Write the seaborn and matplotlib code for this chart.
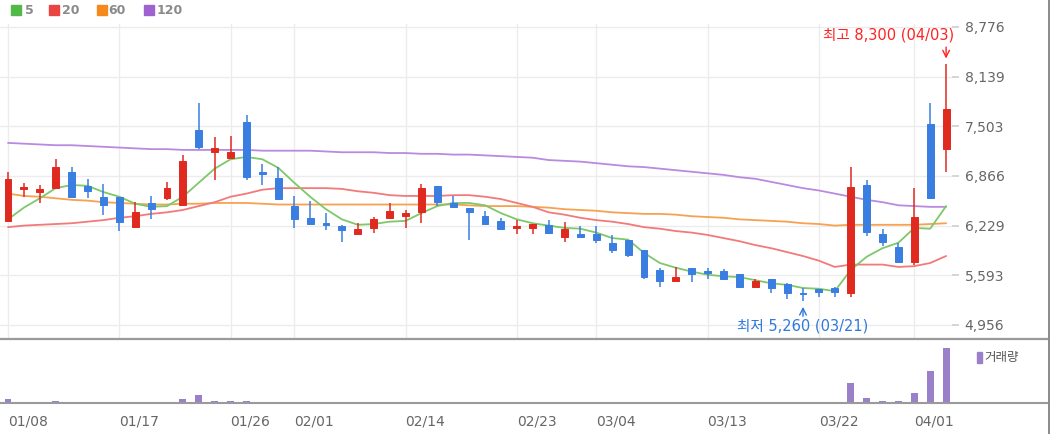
import matplotlib
matplotlib.use("Agg")
import matplotlib.pyplot as plt
import seaborn as sns
import numpy as np
import pandas as pd
from matplotlib.patches import Rectangle
from matplotlib.lines import Line2D

# ---------------- data ----------------
dates = ["01/08", "01/09", "01/10", "01/11", "01/12", "01/15", "01/16", "01/17", "01/18", "01/19",
         "01/22", "01/23", "01/24", "01/25", "01/26", "01/29", "01/30", "01/31", "02/01", "02/02",
         "02/05", "02/06", "02/07", "02/08", "02/13", "02/14", "02/15", "02/16", "02/19", "02/20",
         "02/21", "02/22", "02/23", "02/26", "02/27", "02/28", "02/29", "03/04", "03/05", "03/06",
         "03/07", "03/08", "03/11", "03/12", "03/13", "03/14", "03/15", "03/18", "03/19", "03/20",
         "03/21", "03/22", "03/25", "03/26", "03/27", "03/28", "03/29", "04/01", "04/02", "04/03"]

opens = [6290, 6700, 6660, 6710, 6920, 6740, 6600, 6600, 6210, 6520,
         6580, 6490, 7460, 7170, 7100, 7560, 6920, 6840, 6480, 6330,
         6260, 6220, 6120, 6200, 6330, 6350, 6400, 6740, 6520, 6460,
         6350, 6290, 6200, 6200, 6240, 6080, 6120, 6120, 6010, 6050,
         5920, 5660, 5520, 5690, 5650, 5650, 5610, 5440, 5540, 5480,
         5370, 5420, 5430, 5370, 6750, 6120, 5960, 5760, 7530, 7210]
highs = [6920, 6780, 6750, 7080, 6980, 6830, 6760, 6600, 6530, 6610,
         6790, 7130, 7800, 7370, 7380, 7650, 7020, 6980, 6610, 6550,
         6390, 6240, 6260, 6340, 6520, 6430, 6760, 6740, 6610, 6460,
         6420, 6330, 6300, 6250, 6300, 6280, 6220, 6220, 6110, 6050,
         5920, 5690, 5700, 5690, 5690, 5670, 5610, 5540, 5540, 5490,
         5430, 5420, 5440, 6980, 6810, 6190, 6010, 6710, 7800, 8300]
lows = [6270, 6600, 6520, 6710, 6580, 6580, 6370, 6160, 6210, 6310,
        6560, 6480, 7210, 6810, 7100, 6810, 6750, 6560, 6200, 6250,
        6170, 6020, 6120, 6130, 6330, 6200, 6260, 6480, 6470, 6050,
        6240, 6170, 6120, 6120, 6120, 6020, 6080, 6010, 5880, 5830,
        5540, 5440, 5520, 5510, 5540, 5530, 5430, 5440, 5370, 5290,
        5260, 5310, 5310, 5310, 6100, 5970, 5750, 5720, 6580, 6920]
closes = [6830, 6720, 6700, 6980, 6600, 6670, 6500, 6280, 6400, 6440,
          6710, 7060, 7240, 7220, 7170, 6850, 6890, 6570, 6310, 6250,
          6240, 6170, 6190, 6310, 6420, 6390, 6710, 6530, 6470, 6400,
          6250, 6190, 6220, 6250, 6130, 6190, 6080, 6040, 5920, 5850,
          5570, 5520, 5570, 5610, 5620, 5540, 5440, 5520, 5430, 5370,
          5350, 5380, 5380, 6720, 6150, 6020, 5760, 6340, 6580, 7730]

ma5 = [6310, 6460, 6580, 6710, 6750, 6740, 6660, 6600, 6510, 6470,
       6480, 6600, 6780, 6960, 7080, 7110, 7080, 6970, 6780, 6600,
       6440, 6310, 6240, 6250, 6280, 6290, 6390, 6480, 6520, 6520,
       6490, 6390, 6310, 6260, 6230, 6200, 6190, 6140, 6070, 6050,
       5880, 5750, 5690, 5640, 5600, 5580, 5570, 5530, 5490, 5470,
       5430, 5420, 5390, 5660, 5830, 5940, 6010, 6200, 6190, 6480]
ma20 = [6210, 6230, 6240, 6250, 6260, 6280, 6300, 6330, 6350, 6380,
        6400, 6430, 6480, 6530, 6600, 6640, 6690, 6710, 6710, 6710,
        6710, 6700, 6670, 6650, 6620, 6610, 6610, 6610, 6620, 6620,
        6600, 6570, 6520, 6470, 6400, 6370, 6330, 6300, 6280, 6250,
        6210, 6190, 6160, 6140, 6110, 6070, 6030, 5980, 5940, 5890,
        5840, 5780, 5700, 5730, 5730, 5730, 5700, 5710, 5750, 5840]
ma60 = [6640, 6610, 6600, 6580, 6560, 6550, 6530, 6520, 6510, 6500,
        6500, 6510, 6510, 6520, 6520, 6520, 6510, 6500, 6500, 6500,
        6500, 6500, 6500, 6500, 6500, 6500, 6500, 6500, 6500, 6490,
        6480, 6480, 6480, 6470, 6460, 6440, 6430, 6420, 6400, 6390,
        6380, 6380, 6370, 6350, 6340, 6330, 6310, 6300, 6290, 6280,
        6260, 6250, 6230, 6240, 6240, 6240, 6240, 6240, 6250, 6260]
ma120 = [7290, 7280, 7270, 7260, 7260, 7250, 7240, 7230, 7220, 7210,
         7210, 7200, 7200, 7200, 7200, 7200, 7190, 7190, 7190, 7190,
         7180, 7170, 7170, 7170, 7160, 7160, 7150, 7150, 7140, 7140,
         7130, 7120, 7110, 7100, 7070, 7060, 7050, 7030, 7010, 6990,
         6980, 6960, 6940, 6920, 6900, 6880, 6850, 6830, 6790, 6750,
         6710, 6680, 6640, 6600, 6560, 6530, 6490, 6480, 6470, 6470]

volume = [80, 5, 5, 40, 5, 5, 5, 5, 5, 5,
          5, 80, 160, 40, 40, 40, 5, 5, 5, 5,
          5, 5, 5, 5, 5, 5, 5, 5, 5, 5,
          5, 5, 5, 5, 5, 5, 5, 5, 5, 5,
          5, 5, 5, 5, 5, 5, 5, 5, 5, 5,
          5, 5, 5, 400, 100, 40, 40, 200, 640, 1100]

price_ticks = [4956, 5593, 6229, 6866, 7503, 8139, 8776]
date_ticks = ["01/08", "01/17", "01/26", "02/01", "02/14", "02/23", "03/04", "03/13", "03/22", "04/01"]

ma_names = ["5", "20", "60", "120"]
ma_line_colors = ["#7dc86a", "#f27a7a", "#f6a24f", "#b98ae0"]
ma_legend_colors = ["#53b946", "#ea4343", "#f48a1e", "#9f62d0"]

high_label = "최고 8,300 (04/03)"
low_label = "최저 5,260 (03/21)"
vol_label = "거래량"

# ---------------- style ----------------
W, H = 1050, 434
sns.set_theme(style="white")
plt.rcParams['font.family'] = ['DejaVu Sans', 'Noto Sans CJK KR']

UP = "#e02a20"
DOWN = "#397ee0"
GRID = "#ececec"

def fx(px):
    return px / W

def fy(py):
    return 1 - py / H

idx = np.arange(len(dates))
df = pd.DataFrame({"i": idx, "date": dates, "open": opens, "high": highs,
                   "low": lows, "close": closes, "vol": volume,
                   "ma5": ma5, "ma20": ma20, "ma60": ma60, "ma120": ma120})

STEP = 15.9   # px per trading day
X0 = 8        # px of first candle

fig = plt.figure(figsize=(W / 100, H / 100), dpi=100)
fig.patch.set_facecolor("white")

ax = fig.add_axes([0, fy(338), fx(952), (338 - 24) / H])
axv = fig.add_axes([0, fy(403), fx(1048), (403 - 341) / H])

# ---------------- price panel ----------------
for name, col in zip(["ma120", "ma60", "ma20", "ma5"], ma_line_colors[::-1]):
    sns.lineplot(data=df, x="i", y=name, ax=ax, color=col, lw=1.3, zorder=2)

up = df["close"] >= df["open"]
cols = np.where(up, UP, DOWN)
ax.vlines(df["i"], df["low"], df["high"], colors=cols, lw=1.1, zorder=3)
body_lo = np.minimum(df["open"], df["close"])
body_h = np.abs(df["close"] - df["open"])
ax.bar(df["i"], body_h, bottom=body_lo, width=0.44, color=cols,
       edgecolor=cols, lw=0.7, zorder=4)

ax.set_xlim(-X0 / STEP, (952 - X0) / STEP)
ax.set_ylim(4789, 8814)
tick_pos = [dates.index(d) for d in date_ticks]
ax.set_xticks(tick_pos)
ax.set_xticklabels([])
ax.tick_params(axis="x", length=0)
ax.set_yticks(price_ticks)
ax.set_yticklabels([f"{v:,}" for v in price_ticks])
ax.yaxis.tick_right()
ax.tick_params(axis="y", length=5, color="#d0d0d0", labelcolor="#666666",
               labelsize=10, pad=4)
ax.grid(True, color=GRID, lw=1)
ax.set_xlabel("")
ax.set_ylabel("")
for s in ax.spines.values():
    s.set_visible(False)

# high / low annotations
i_hi = int(np.argmax(highs))
i_lo = int(np.argmin(lows))
red_txt = "#ff2323"
blue_txt = "#2f78dc"
ax.annotate("", xy=(i_hi, highs[i_hi]), xytext=(0, 17), textcoords="offset pixels",
            arrowprops=dict(arrowstyle="->", color=red_txt, lw=1.0,
                            shrinkA=0, shrinkB=4), annotation_clip=False)
ax.annotate(high_label, xy=(i_hi, highs[i_hi]), xytext=(8, 29),
            textcoords="offset pixels", ha="right", va="center",
            color=red_txt, fontsize=10.5, annotation_clip=False)
ax.annotate("", xy=(i_lo, lows[i_lo]), xytext=(0, -15), textcoords="offset pixels",
            arrowprops=dict(arrowstyle="->", color=blue_txt, lw=1.0,
                            shrinkA=0, shrinkB=4), annotation_clip=False)
ax.annotate(low_label, xy=(i_lo, lows[i_lo]), xytext=(0, -25),
            textcoords="offset pixels", ha="center", va="center",
            color=blue_txt, fontsize=10.5, annotation_clip=False)

# ---------------- volume panel ----------------
sns.barplot(data=df, x="i", y="vol", ax=axv, native_scale=True, color="#9a80c8",
            saturation=1, width=0.44, linewidth=0, errorbar=None)
axv.set_xlim(-X0 / STEP, (1048 - X0) / STEP)
axv.set_ylim(0, max(volume) * 62 / 55)
axv.set_yticks([])
axv.set_xticks(tick_pos)
axv.set_xticklabels(date_ticks, ha="left")
axv.tick_params(axis="x", direction="inout", length=10, width=1, color="#9a9a9a",
                labelsize=10, labelcolor="#666666", pad=3)
axv.set_xlabel("")
axv.set_ylabel("")
for k, s in axv.spines.items():
    s.set_visible(k == "bottom")
axv.spines["bottom"].set_color("#9a9a9a")
axv.spines["bottom"].set_linewidth(1.5)
axv.set_facecolor("none")

# ---------------- decorations ----------------
fig.add_artist(Line2D([0, fx(1048)], [fy(339), fy(339)], color="#9a9a9a", lw=1.6))
fig.add_artist(Line2D([fx(1048.5), fx(1048.5)], [0, 1], color="#8a8a8a", lw=1.4))

sq_x = [11, 49, 97, 144]
tx_x = [25, 62, 108, 157]
for name, col, sx, tx in zip(ma_names, ma_legend_colors, sq_x, tx_x):
    fig.add_artist(Rectangle((fx(sx), fy(15)), fx(10), 10 / H, color=col,
                             transform=fig.transFigure))
    fig.text(fx(tx), fy(10.5), name, ha="left", va="center", fontsize=9,
             fontweight="bold", color="#8a8a8a")

fig.add_artist(Rectangle((fx(977), fy(363)), fx(4.5), 11 / H, color="#9a80c8",
                         transform=fig.transFigure))
fig.text(fx(984), fy(357), vol_label, ha="left", va="center", fontsize=9,
         color="#555555", family=["Noto Sans CJK KR", "DejaVu Sans"])

fig.savefig("out.png", dpi=100, facecolor="white")
